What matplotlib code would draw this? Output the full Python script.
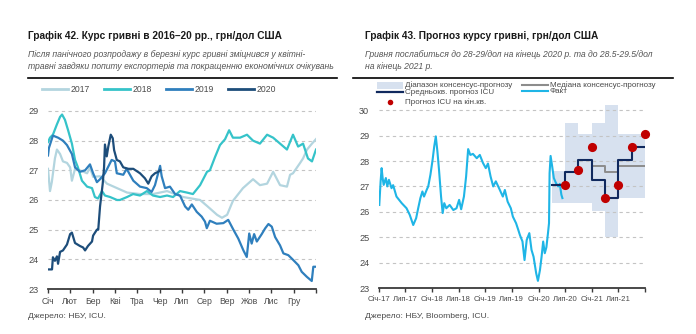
import matplotlib
matplotlib.use('Agg')
import datetime as dt

import matplotlib.pyplot as plt
import pandas as pd
from matplotlib import font_manager
from matplotlib.lines import Line2D
from matplotlib.patches import Rectangle

W, H = 696, 334

installed = {f.name for f in font_manager.fontManager.ttflist}
narrow = 'Liberation Sans Narrow' in installed
FONT = 'Liberation Sans Narrow' if narrow else 'Liberation Sans'
K = 1.0 if narrow else 0.87
plt.rcParams['font.family'] = [FONT, 'DejaVu Sans']

# ---- chart 42: UAH/USD by year, x = month of year (0..12)
months = ['Січ', 'Лют', 'Бер', 'Кві', 'Тра', 'Чер', 'Лип', 'Сер', 'Вер', 'Жов', 'Лис', 'Гру']

m2017 = [0.0, 0.09, 0.17, 0.31, 0.4, 0.54, 0.67, 0.85, 0.99, 1.07, 1.21, 1.43, 1.75, 1.88,
         2.02, 2.33, 2.64, 3.09, 3.54, 4.12, 4.7, 5.33, 6.05, 6.81, 7.12, 7.57, 7.79, 8.02,
         8.28, 8.73, 9.18, 9.49, 9.81, 10.08, 10.39, 10.7, 10.84, 10.97, 11.29, 11.42,
         11.6, 11.82, 12.0]
v2017 = [27.05, 26.3, 26.6, 27.4, 27.7, 27.55, 27.3, 27.25, 27.1, 26.65, 27.05, 27.0, 26.9,
         27.1, 26.78, 26.8, 26.55, 26.4, 26.25, 26.2, 26.2, 26.3, 26.1, 26.0, 25.8, 25.5,
         25.4, 25.5, 25.97, 26.4, 26.7, 26.5, 26.55, 26.95, 26.5, 26.45, 26.85, 26.9,
         27.25, 27.4, 27.7, 27.9, 28.05]

m2018 = [0.0, 0.09, 0.22, 0.4, 0.54, 0.63, 0.76, 0.9, 1.07, 1.21, 1.34, 1.52, 1.75, 1.97,
         2.1, 2.24, 2.42, 2.55, 2.78, 3.09, 3.22, 3.54, 3.81, 4.12, 4.43, 4.7, 5.02, 5.33,
         5.6, 5.91, 6.22, 6.49, 6.81, 7.12, 7.25, 7.48, 7.7, 7.93, 8.11, 8.28, 8.6, 8.91,
         9.18, 9.49, 9.81, 10.08, 10.39, 10.7, 10.97, 11.2, 11.42, 11.64, 11.82, 12.0]
v2018 = [27.95, 28.1, 28.2, 28.55, 28.8, 28.88, 28.7, 28.35, 27.9, 27.35, 27.1, 26.65,
         26.45, 26.4, 26.1, 26.05, 26.3, 26.15, 26.1, 26.0, 26.0, 26.1, 26.2, 26.15, 26.3,
         26.15, 26.1, 26.15, 26.1, 26.3, 26.25, 26.2, 26.5, 26.95, 27.0, 27.45, 27.85,
         28.05, 28.35, 28.1, 28.1, 28.2, 28.0, 27.9, 28.2, 28.1, 27.9, 27.7, 28.2, 27.8,
         27.9, 27.4, 27.3, 27.7]

m2019 = [0.0, 0.04, 0.22, 0.45, 0.67, 0.85, 1.07, 1.21, 1.43, 1.66, 1.88, 2.02, 2.19, 2.33,
         2.55, 2.85, 3.0, 3.08, 3.37, 3.52, 3.82, 4.12, 4.42, 4.64, 4.79, 5.02, 5.09, 5.24,
         5.46, 5.69, 5.91, 6.14, 6.28, 6.44, 6.66, 6.88, 7.03, 7.11, 7.25, 7.55, 7.85,
         8.07, 8.3, 8.52, 8.75, 8.9, 9.01, 9.12, 9.23, 9.35, 9.57, 9.72, 9.87, 10.02,
         10.17, 10.39, 10.54, 10.76, 10.99, 11.21, 11.36, 11.59, 11.81, 11.88, 11.99]
v2019 = [27.5, 27.75, 28.17, 28.1, 28.0, 27.85, 27.55, 27.1, 26.95, 27.0, 27.2, 26.9, 26.6,
         26.7, 26.9, 27.35, 27.3, 26.9, 26.85, 27.05, 26.65, 26.45, 26.4, 26.27, 26.5,
         27.15, 26.8, 26.4, 26.45, 26.2, 26.15, 25.78, 25.67, 25.85, 25.6, 25.44, 25.27,
         25.05, 25.3, 25.2, 25.22, 25.33, 25.0, 24.7, 24.3, 24.08, 24.87, 24.53, 24.85,
         24.6, 24.85, 25.04, 25.19, 25.1, 24.75, 24.47, 24.2, 24.14, 23.97, 23.8, 23.58,
         23.41, 23.27, 23.75, 23.75]

m2020 = [0.0, 0.18, 0.22, 0.31, 0.4, 0.45, 0.54, 0.67, 0.85, 0.99, 1.07, 1.21, 1.43, 1.57,
         1.66, 1.79, 1.97, 2.02, 2.19, 2.25, 2.33, 2.45, 2.51, 2.55, 2.63, 2.7, 2.81, 2.9,
         2.96, 3.08, 3.22, 3.37, 3.6, 3.82, 4.12, 4.34, 4.49, 4.64, 4.79, 4.94, 5.02]
v2020 = [23.66, 23.66, 24.07, 23.95, 24.1, 23.85, 24.25, 24.3, 24.5, 24.85, 24.9, 24.55,
         24.45, 24.4, 24.3, 24.45, 24.6, 24.8, 25.0, 25.0, 25.78, 26.55, 27.1, 27.87,
         27.47, 27.8, 28.2, 28.08, 27.68, 27.35, 27.3, 27.1, 27.05, 27.05, 26.9, 26.73,
         26.55, 26.8, 26.9, 26.95, 27.0]

years = ['2017', '2018', '2019', '2020']
year_colors = ['#b3d5df', '#35c3c9', '#2f7fbd', '#1d4d7a']

# ---- chart 43: forecast
fact_dates = ['2017-01-03', '2017-01-12', '2017-01-19', '2017-01-26', '2017-02-02',
              '2017-02-17', '2017-02-27', '2017-03-10', '2017-03-28', '2017-04-08',
              '2017-05-01', '2017-06-06', '2017-07-09', '2017-07-31', '2017-08-24',
              '2017-09-13', '2017-09-27', '2017-10-12', '2017-10-26', '2017-11-06',
              '2017-11-24', '2017-12-05', '2017-12-20', '2018-01-04', '2018-01-15',
              '2018-01-26', '2018-02-06', '2018-02-17', '2018-03-03', '2018-03-14',
              '2018-03-25', '2018-04-08', '2018-05-01', '2018-05-26', '2018-06-17',
              '2018-07-05', '2018-07-19', '2018-08-07', '2018-08-22', '2018-09-05',
              '2018-09-20', '2018-10-08', '2018-11-03', '2018-11-24', '2018-12-16',
              '2019-01-04', '2019-01-19', '2019-02-06', '2019-02-24', '2019-03-14',
              '2019-04-05', '2019-05-01', '2019-05-15', '2019-06-03', '2019-06-25',
              '2019-07-09', '2019-07-31', '2019-08-15', '2019-08-26', '2019-09-13',
              '2019-09-27', '2019-10-12', '2019-10-30', '2019-11-14', '2019-11-28',
              '2019-12-16', '2019-12-28', '2020-01-11', '2020-01-22', '2020-02-02',
              '2020-02-13', '2020-02-24', '2020-03-06', '2020-03-13', '2020-03-17',
              '2020-03-24', '2020-04-04', '2020-04-15', '2020-04-30', '2020-05-15',
              '2020-05-26', '2020-06-06', '2020-06-13']
fact_vals = [26.27, 27.19, 27.72, 27.33, 27.06, 27.33, 27.0, 27.26, 26.93, 27.05, 26.6,
             26.34, 26.14, 25.88, 25.48, 25.75, 26.14, 26.54, 26.8, 26.6, 26.86, 27.0,
             27.46, 28.05, 28.57, 28.97, 28.37, 27.65, 26.6, 25.95, 26.34, 26.14, 26.27,
             26.07, 26.14, 26.47, 26.1, 26.6, 27.39, 28.47, 28.24, 28.28, 28.11, 28.24,
             27.92, 27.72, 27.9, 27.39, 27.0, 27.2, 26.93, 26.6, 26.86, 26.4, 26.14, 25.81,
             25.55, 25.29, 25.09, 24.83, 24.1, 24.89, 25.16, 24.5, 24.23, 23.58, 23.28,
             23.71, 24.23, 24.83, 24.37, 24.6, 25.16, 25.55, 27.52, 28.2, 27.78, 27.33,
             27.13, 27.0, 27.1, 26.67, 26.54]

quarters = ['2020-04-01', '2020-07-01', '2020-10-01', '2021-01-01', '2021-04-01',
            '2021-07-01', '2021-10-01', '2022-01-01']
band_low = [26.35, 26.35, 26.35, 26.05, 25.0, 26.55, 26.55]
band_high = [27.6, 29.5, 29.05, 29.5, 30.2, 29.05, 29.05]
icu_avg = [27.05, 27.55, 28.05, 27.25, 26.55, 28.05, 28.55]
median_quarters = ['2021-01-01', '2021-04-01', '2021-07-01', '2021-10-01', '2022-01-01']
median_vals = [27.8, 27.55, 27.8, 27.8]
icu_end_dates = ['2020-07-01', '2020-10-01', '2021-01-01', '2021-04-01', '2021-07-01',
                 '2021-10-01', '2022-01-01']
icu_end_vals = [27.05, 27.65, 28.55, 26.55, 27.05, 28.55, 29.05]

ticks43 = ['2017-01-01', '2017-07-01', '2018-01-01', '2018-07-01', '2019-01-01',
           '2019-07-01', '2020-01-01', '2020-07-01', '2021-01-01', '2021-07-01', '2022-01-01']
ticklabels43 = ['Січ-17', 'Лип-17', 'Січ-18', 'Лип-18', 'Січ-19', 'Лип-19', 'Січ-20',
                'Лип-20', 'Січ-21', 'Лип-21', '']

C_FACT = '#1fb5e6'
C_AVG = '#10295e'
C_MED = '#8c8c8c'
C_BAND = '#d7e1ef'
C_DOT = '#c00000'
C_GRID = '#c4c4c4'
C_TXT = '#4a4a4a'


def fx(x):
    return x / W


def fy(y):
    return 1 - y / H


def style_axis(ax, xsize):
    for s in ['left', 'top', 'right']:
        ax.spines[s].set_visible(False)
    ax.spines['bottom'].set_color('#3a3a3a')
    ax.spines['bottom'].set_linewidth(1.3)
    ax.grid(axis='y', color=C_GRID, linestyle=(0, (3, 3)), linewidth=0.8)
    ax.set_axisbelow(True)
    ax.tick_params(axis='y', length=0, pad=7, labelsize=7.6 * K, colors=C_TXT)
    ax.tick_params(axis='x', length=3, width=1, color='#3a3a3a', pad=3,
                   labelsize=xsize, labelcolor=C_TXT)


fig = plt.figure(figsize=(W / 100, H / 100), dpi=100)

# headers
for x0, x1, title, sub, src in [
        (28, 337, 'Графік 42. Курс гривні в 2016–20 рр., грн/дол США',
         ['Після панічного розпродажу в березні курс гривні зміцнився у квітні-',
          'травні завдяки попиту експортерів та покращенню економічних очікувань'],
         'Джерело: НБУ, ICU.'),
        (365, 673, 'Графік 43. Прогноз курсу гривні, грн/дол США',
         ['Гривня послабиться до 28-29/дол на кінець 2020 р. та до 28.5-29.5/дол',
          'на кінець 2021 р.'],
         'Джерело: НБУ, Bloomberg, ICU.')]:
    fig.text(fx(x0), fy(36), title, fontsize=8.35 * K, weight='bold', va='center',
             color='#1a1a1a')
    fig.text(fx(x0), fy(54.5), sub[0], fontsize=7.1 * K, style='italic', va='center',
             color='#555555')
    fig.text(fx(x0), fy(66.5), sub[1], fontsize=7.1 * K, style='italic', va='center',
             color='#555555')
    fig.text(fx(x0), fy(316), src, fontsize=7.0 * K, va='center', color=C_TXT)
    left = 28 if x0 == 28 else 353
    fig.add_artist(Line2D([fx(left), fx(x1)], [fy(78.5), fy(78.5)], color='black', lw=1.2))

# ---- left chart
ax1 = fig.add_axes([fx(48), fy(289), fx(316) - fx(48), fy(108) - fy(289)])
series = [(m2017, v2017), (m2018, v2018), (m2019, v2019), (m2020, v2020)]
for (mm, vv), c in zip(series, year_colors):
    ax1.plot(mm, vv, color=c, lw=1.6, solid_joinstyle='round')
ax1.set_xlim(0, 12)
ax1.set_ylim(23, 29.1)
ax1.set_yticks([23, 24, 25, 26, 27, 28, 29])
ax1.set_xticks(range(13))
ax1.set_xticklabels(months + [''])
style_axis(ax1, 7.2 * K)

# left legend
for i, (yr, c) in enumerate(zip(years, year_colors)):
    x = 42 + i * 62
    fig.add_artist(Line2D([fx(x), fx(x + 26)], [fy(89), fy(89)], color=c, lw=2))
    fig.text(fx(x + 28.5), fy(89), yr, fontsize=7.2 * K, va='center', color=C_TXT)

# ---- right chart
ax2 = fig.add_axes([fx(379), fy(288), fx(645) - fx(379), fy(102.6) - fy(288)])
qd = pd.to_datetime(quarters)
ax2.fill_between(qd, band_low + band_low[-1:], band_high + band_high[-1:], step='post',
                 color=C_BAND, lw=0, zorder=0)
ax2.plot(pd.to_datetime(fact_dates), fact_vals, color=C_FACT, lw=1.5, zorder=3)
ax2.plot(pd.to_datetime(median_quarters), median_vals + median_vals[-1:],
         drawstyle='steps-post', color=C_MED, lw=1.4, zorder=4)
ax2.plot(qd, icu_avg + icu_avg[-1:], drawstyle='steps-post', color=C_AVG, lw=1.5, zorder=5)
ax2.plot(pd.to_datetime(icu_end_dates), icu_end_vals, 'o', color=C_DOT, ms=6.6, mew=0,
         zorder=6, clip_on=False)
ax2.set_xlim(dt.date(2017, 1, 1), dt.date(2022, 1, 1))
ax2.set_ylim(23, 30.3)
ax2.set_yticks([23, 24, 25, 26, 27, 28, 29, 30])
ax2.set_xticks(pd.to_datetime(ticks43))
ax2.set_xticklabels(ticklabels43)
style_axis(ax2, 6.4 * K)

# right legend
fs = 6.6 * K
fig.add_artist(Rectangle((fx(377), fy(88.5)), fx(403) - fx(377), fy(82) - fy(88.5),
                         color=C_BAND, lw=0))
fig.text(fx(405), fy(85.5), 'Діапазон консенсус-прогнозу', fontsize=fs, va='center', color=C_TXT)
fig.add_artist(Line2D([fx(377), fx(403)], [fy(92.5), fy(92.5)], color=C_AVG, lw=1.6))
fig.text(fx(405), fy(92.3), 'Средньокв. прогноз ICU', fontsize=fs, va='center', color=C_TXT)
fig.add_artist(Line2D([fx(390)], [fy(102.3)], marker='o', color=C_DOT, ms=4, mew=0))
fig.text(fx(405), fy(102.3), 'Прогноз ICU на кін.кв.', fontsize=fs, va='center', color=C_TXT)
fig.add_artist(Line2D([fx(522), fx(548)], [fy(84.5), fy(84.5)], color=C_MED, lw=1.5))
fig.text(fx(550), fy(85.5), 'Медіана консенсус-прогнозу', fontsize=fs, va='center', color=C_TXT)
fig.add_artist(Line2D([fx(522), fx(548)], [fy(91), fy(91)], color=C_FACT, lw=1.5))
fig.text(fx(550), fy(91.5), 'Факт', fontsize=fs, va='center', color=C_TXT)

fig.savefig('out.png', dpi=100)
